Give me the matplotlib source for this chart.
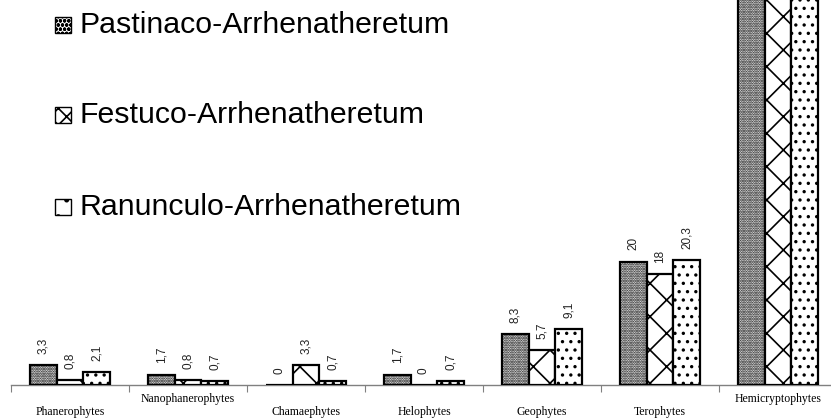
import numpy as np
import matplotlib
matplotlib.use("Agg")
import matplotlib.pyplot as plt
from matplotlib.patches import Rectangle

plt.rcParams["hatch.linewidth"] = 1.2

categories = ["Phanerophytes", "Nanophanerophytes", "Chamaephytes", "Helophytes",
              "Geophytes", "Terophytes", "Hemicryptophytes"]
series = ["Pastinaco-Arrhenatheretum", "Festuco-Arrhenatheretum",
          "Ranunculo-Arrhenatheretum"]
pastinaco = [3.3, 1.7, 0, 1.7, 8.3, 20, 65]
festuco = [0.8, 0.8, 3.3, 0, 5.7, 18, 71.4]
ranunculo = [2.1, 0.7, 0.7, 0.7, 9.1, 20.3, 66.4]
values = [pastinaco, festuco, ranunculo]
hatches = [".......", "x", ".."]

W, H = 831, 419
fig = plt.figure(figsize=(W / 100, H / 100), dpi=100)
ax = fig.add_axes([11 / W, 34 / H, 826 / W, 385 / H])

x = np.arange(len(categories)) + 0.5
bw = 0.226
for k, (vals, hatch) in enumerate(zip(values, hatches)):
    pos = x + (k - 1) * bw
    ax.bar(pos, vals, width=bw, color="white", edgecolor="black",
           linewidth=1.6, hatch=hatch, zorder=3)
    for xp, v in zip(pos, vals):
        lab = f"{v:g}".replace(".", ",")
        ax.annotate(lab, (xp, v), xytext=(0, 8), textcoords="offset points",
                    rotation=90, ha="center", va="bottom", fontsize=8.5,
                    family="Liberation Sans", color="#222222", clip_on=True)

ax.set_xlim(0, len(categories))
ax.set_ylim(0, 62.4)
for s in ["left", "right", "top"]:
    ax.spines[s].set_visible(False)
ax.spines["bottom"].set_color("#808080")
ax.spines["bottom"].set_linewidth(1.0)
ax.set_yticks([])
ax.set_xticks(np.arange(len(categories) + 1))
ax.set_xticklabels([])
ax.tick_params(axis="x", length=5, color="#808080", direction="out")

# category names, the long ones sit a bit higher
label_y = [412, 399, 412, 412, 412, 412, 399]
for xc, name, yy in zip(x, categories, label_y):
    ax.text(xc, -(yy - 385) / 385, name, transform=ax.get_xaxis_transform(),
            ha="center", va="center", fontsize=8.5, family="Liberation Serif")

# legend drawn by hand in figure coordinates
row_y = [25, 115, 207]
leg_hatches = ["oooo", "xx", "."]
for name, hatch, yy in zip(series, leg_hatches, row_y):
    fig.add_artist(Rectangle((55 / W, 1 - (yy + 8) / H), 16 / W, 16 / H,
                             transform=fig.transFigure, facecolor="white",
                             edgecolor="black", linewidth=1.0, hatch=hatch))
    fig.text(80 / W, 1 - yy / H, name, ha="left", va="center", fontsize=21.8,
             family="Liberation Sans")

fig.savefig("out.png", dpi=100)
